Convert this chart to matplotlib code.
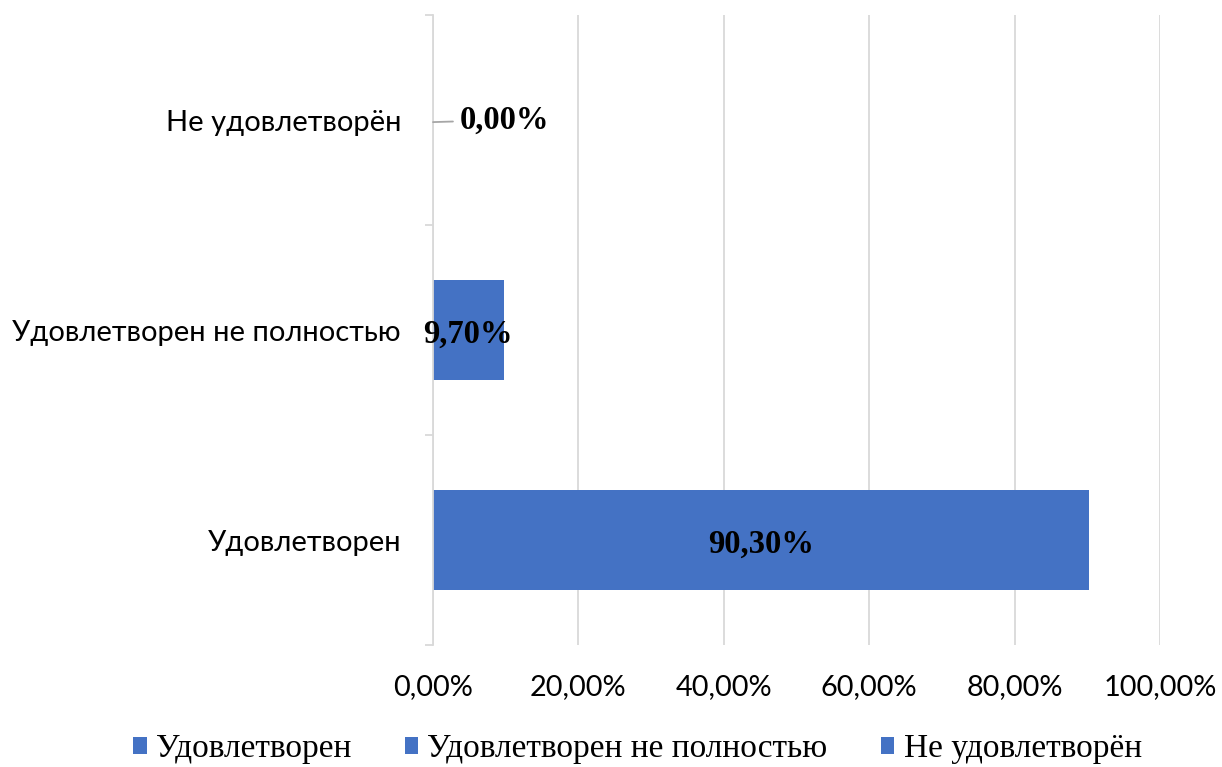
import matplotlib
matplotlib.use("Agg")
import matplotlib.pyplot as plt
from matplotlib.patches import Patch
from matplotlib.ticker import FixedLocator

categories = ["Удовлетворен", "Удовлетворен не полностью", "Не удовлетворён"]
values = [90.30, 9.70, 0.00]
series_names = ["Удовлетворен", "Удовлетворен не полностью", "Не удовлетворён"]
xticks = [0, 20, 40, 60, 80, 100]

BLUE = "#4472C4"
GRID = "#D9D9D9"

fig = plt.figure(figsize=(12.22, 7.67), dpi=100)
ax = fig.add_axes([433/1222, 1-645/767, (1160-433)/1222, (645-15)/767])

y = list(range(len(categories)))
bars = ax.barh(y, values, height=0.48, color=BLUE, zorder=3)

ax.set_xlim(0, 100)
ax.set_ylim(-0.5, len(categories)-0.5)

ax.set_xticks(xticks)
ax.set_xticklabels([f"{v:.2f}%".replace(".", ",") for v in xticks],
                   fontfamily="Lato", fontsize=20.8, color="#000000")
ax.tick_params(axis="x", length=0, pad=21)
ax.grid(axis="x", color=GRID, linewidth=1.3, zorder=0)

ax.set_yticks(y)
ax.set_yticklabels(categories, fontfamily="Lato", fontsize=21)
ax.tick_params(axis="y", which="major", length=0, pad=23)
ax.yaxis.set_minor_locator(FixedLocator([-0.5, 0.5, 1.5, 2.5]))
ax.tick_params(axis="y", which="minor", length=6, width=1.3, color=GRID)

for s in ["top", "right", "bottom"]:
    ax.spines[s].set_visible(False)
ax.spines["left"].set_color(GRID)
ax.spines["left"].set_linewidth(1.3)
ax.spines["left"].set_zorder(4)

lab_font = dict(fontfamily="Liberation Serif", fontweight="bold", fontsize=23.5, color="black")
for yi, v in zip(y, values):
    txt = f"{v:.2f}%".replace(".", ",")
    if v < 1:
        ax.annotate(txt, xy=(v, yi - 0.01), xytext=(v + 3.7, yi), va="center", ha="left",
                    arrowprops=dict(arrowstyle="-", color="#A6A6A6", lw=1.3,
                                    shrinkA=3, shrinkB=0),
                    zorder=5, **lab_font)
    else:
        ax.text(v/2, yi - 0.02, txt, ha="center", va="center", zorder=5, **lab_font)

handles = [Patch(facecolor=BLUE, edgecolor="none") for _ in series_names]
fig.legend(handles, series_names, loc="center", bbox_to_anchor=(0.5217, 1-749/767),
           ncol=3, frameon=False, prop=dict(family="Liberation Serif", size=24),
           handlelength=0.4, handleheight=0.4, handletextpad=0.28, columnspacing=1.6)

fig.savefig("out.png", dpi=100)
